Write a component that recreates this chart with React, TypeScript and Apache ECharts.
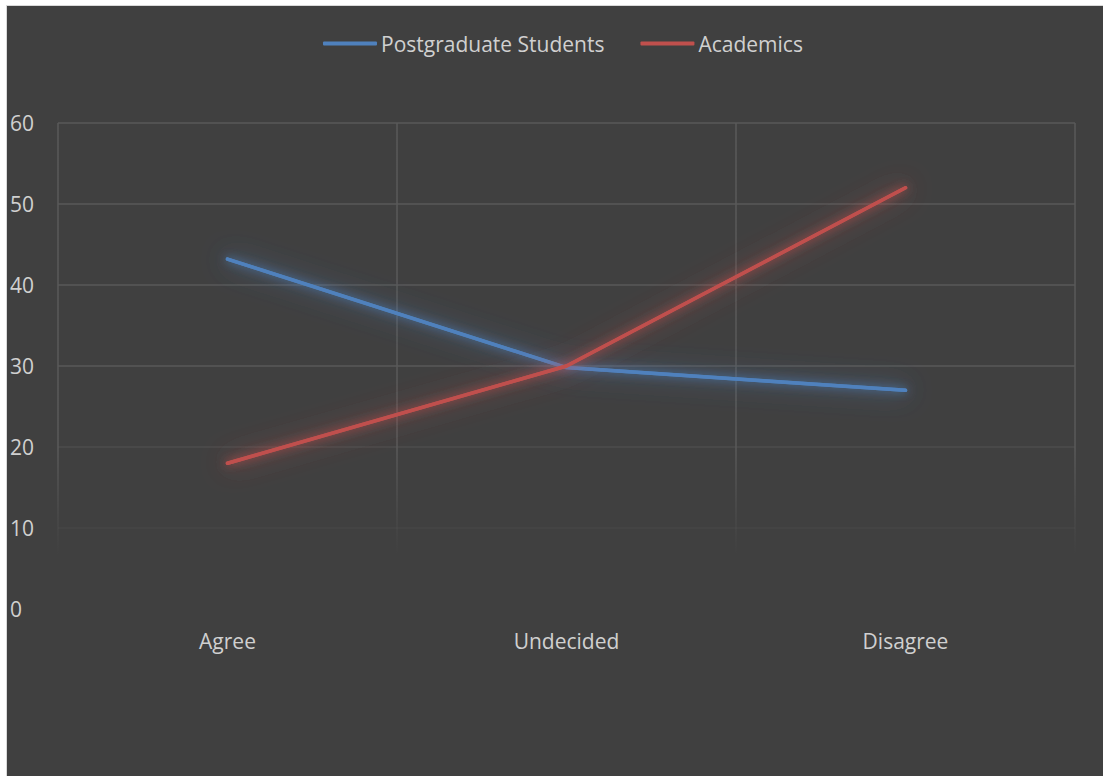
import React, { useEffect, useRef } from "react";
import * as echarts from "echarts";

// Survey responses (%) by group
const categories = ["Agree", "Undecided", "Disagree"];
const postgraduateStudents = [43.2, 29.8, 27.0];
const academics = [18, 30, 52];
const seriesNames = ["Postgraduate Students", "Academics"];

const BG = "#404040";
const GRID = "#595959";
const TEXT = "#d0d0d0";
const FONT = "'Open Sans', 'Noto Sans', sans-serif";
const FONT_SIZE = 21;

const BLUE = "#4F81BD";
const RED = "#C0504D";

export default function App() {
  const ref = useRef<HTMLDivElement>(null);

  useEffect(() => {
    if (!ref.current) return;
    const chart = echarts.init(ref.current, undefined, { renderer: "svg" });

    const gridTop = 117;
    const gridBottomY = 603;
    const span = gridBottomY - gridTop;
    // vertical grid lines fade out towards the bottom of the plot
    const verticalFade = new echarts.graphic.LinearGradient(
      0,
      gridTop,
      0,
      gridBottomY,
      [
        { offset: 0, color: GRID },
        { offset: (444 - gridTop) / span, color: GRID },
        { offset: (549 - gridTop) / span, color: "rgba(89,89,89,0)" },
        { offset: 1, color: "rgba(89,89,89,0)" },
      ],
      true
    );

    // crisp line on top, with a tight glow
    const line = (name: string, data: number[], color: string, z: number) => ({
      name,
      type: "line",
      data,
      z,
      showSymbol: false,
      symbol: "none",
      color,
      lineStyle: {
        width: 3.5,
        color,
        cap: "round",
        join: "round",
        shadowBlur: 10,
        shadowColor: color,
      },
    });

    // wider soft glow underneath
    const halo = (name: string, data: number[], color: string, z: number) => ({
      name,
      type: "line",
      data,
      z,
      silent: true,
      showSymbol: false,
      symbol: "none",
      lineStyle: {
        width: 3.5,
        color,
        cap: "round",
        join: "round",
        shadowBlur: 26,
        shadowColor: color,
      },
    });

    chart.setOption({
      animation: false,
      backgroundColor: BG,
      textStyle: { fontFamily: FONT, color: TEXT },
      legend: {
        top: 22,
        left: 311,
        itemWidth: 54,
        itemHeight: 4,
        itemGap: 36,
        icon: "roundRect",
        textStyle: { color: TEXT, fontSize: FONT_SIZE, fontFamily: FONT, padding: [0, 0, 0, -1] },
        data: seriesNames,
      },
      grid: { left: 51, right: 28, top: gridTop, bottom: 167, containLabel: false },
      xAxis: {
        type: "category",
        data: categories,
        boundaryGap: true,
        axisLine: { show: false },
        axisTick: { show: false },
        axisLabel: { color: TEXT, fontSize: FONT_SIZE, fontFamily: FONT, margin: 21 },
        splitLine: { show: true, lineStyle: { color: verticalFade, width: 1.5 } },
      },
      yAxis: {
        type: "value",
        min: 0,
        max: 60,
        interval: 10,
        axisLine: { show: false },
        axisTick: { show: false },
        axisLabel: { color: TEXT, fontSize: FONT_SIZE, fontFamily: FONT, align: "left", margin: 48 },
        splitLine: {
          show: true,
          lineStyle: {
            width: 1.5,
            color: [
              "rgba(89,89,89,0)",
              "rgba(89,89,89,0.25)",
              "rgba(89,89,89,0.55)",
              GRID,
              GRID,
              GRID,
              GRID,
            ],
          },
        },
      },
      series: [
        line(seriesNames[0], postgraduateStudents, BLUE, 4),
        line(seriesNames[1], academics, RED, 6),
        halo(seriesNames[0], postgraduateStudents, BLUE, 3),
        halo(seriesNames[1], academics, RED, 5),
      ],
    });

    return () => chart.dispose();
  }, []);

  return (
    <div
      style={{
        position: "fixed",
        left: 6,
        top: 5,
        width: 1097,
        height: 771,
        borderLeft: "1px solid #d9d9d9",
        borderTop: "1px solid #d9d9d9",
        background: BG,
        overflow: "hidden",
      }}
    >
      <div ref={ref} style={{ width: 1096, height: 770 }} />
    </div>
  );
}
